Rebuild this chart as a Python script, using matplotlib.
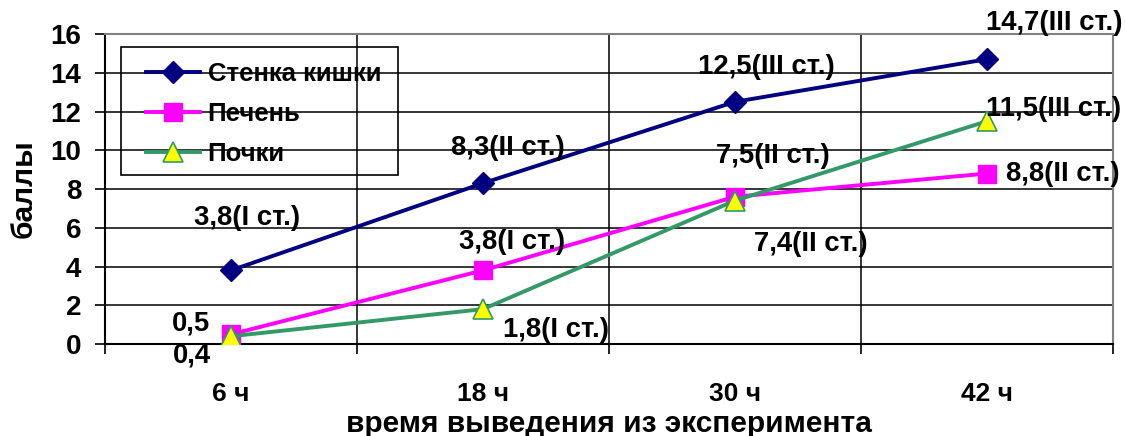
import matplotlib.pyplot as plt
import matplotlib.patches as mpatches
import numpy as np

plt.rcParams['font.family'] = ['Liberation Sans', 'DejaVu Sans']
plt.rcParams['font.weight'] = 'bold'

# данные
categories = ["6 ч", "18 ч", "30 ч", "42 ч"]
stenka = [3.8, 8.3, 12.5, 14.7]
pechen = [0.5, 3.8, 7.6, 8.8]
pochki = [0.4, 1.8, 7.4, 11.5]
stenka_labels = ["3,8(I ст.)", "8,3(II ст.)", "12,5(III ст.)", "14,7(III ст.)"]
pechen_labels = ["0,5", "3,8(I ст.)", "7,5(II ст.)", "8,8(II ст.)"]
pochki_labels = ["0,4", "1,8(I ст.)", "7,4(II ст.)", "11,5(III ст.)"]

# смещения подписей (пиксели)
stenka_off = [(16, 52), (25, 35), (31, 35), (67, 36)]
pechen_off = [(-40, 11), (29, 28), (38, 41), (76, 0)]
pochki_off = [(-39, -19), (73, -21), (76, -43), (67, 12)]

fs = 18.5
fig = plt.figure(figsize=(11.25, 4.36), dpi=100)
ax = fig.add_axes([105/1125, 1-344/436, 1008/1125, 310/436])

x = np.arange(len(categories))
ax.plot(x, stenka, color='#000080', lw=2.8, marker='D', ms=11,
        mfc='#000080', mec='#000080', label="Стенка кишки", zorder=3)
ax.plot(x, pechen, color='#FF00FF', lw=2.8, marker='s', ms=13,
        mfc='#FF00FF', mec='#FF00FF', label="Печень", zorder=3)
ax.plot(x, pochki, color='#339966', lw=2.8, marker='^', ms=14,
        mfc='#FFFF00', mec='#339966', mew=1.2, label="Почки", zorder=4)

for vals, labs, offs in [(stenka, stenka_labels, stenka_off),
                         (pechen, pechen_labels, pechen_off),
                         (pochki, pochki_labels, pochki_off)]:
    for i, (v, t, o) in enumerate(zip(vals, labs, offs)):
        ax.annotate(t, (i, v), xytext=o, textcoords='offset pixels',
                    ha='center', va='center', fontsize=19.8, fontweight='bold',
                    annotation_clip=False, zorder=5)

ax.set_xlim(-0.5, 3.5)
ax.set_ylim(0, 16)
ax.set_yticks(np.arange(0, 17, 2))
ax.set_xticks(x)
ax.set_xticklabels(categories)
ax.set_xticks(np.arange(-0.5, 3.6, 1), minor=True)
ax.tick_params(axis='x', which='major', length=0, pad=27, labelsize=19)
ax.tick_params(axis='x', which='minor', length=7, width=1.2, direction='out')
ax.tick_params(axis='y', length=7, width=1.2, labelsize=20, pad=10)

for yv in np.arange(2, 16, 2):
    ax.axhline(yv, color='black', lw=1.1, zorder=1)
for xv in [0.5, 1.5, 2.5]:
    ax.axvline(xv, color='black', lw=1.1, zorder=1)

ax.spines['left'].set_linewidth(1.5)
ax.spines['bottom'].set_linewidth(1.5)
for s in ['top', 'right']:
    ax.spines[s].set_color('#808080')
    ax.spines[s].set_linewidth(1.5)

ax.set_xlabel("время выведения из эксперимента", fontsize=21.5, fontweight='bold', labelpad=3)
ax.set_ylabel("баллы", fontsize=21.5, fontweight='bold', labelpad=9)

leg = ax.legend(loc='upper left', bbox_to_anchor=(0.0407, 0.911), fontsize=fs,
                frameon=False, handlelength=2.1, handletextpad=0.3,
                labelspacing=0.64, borderpad=0, borderaxespad=0)
for t in leg.get_texts():
    t.set_fontweight('bold')
ax.add_patch(mpatches.Rectangle((0.0159, 0.545), 0.2748, 0.413, transform=ax.transAxes,
                                fill=False, edgecolor='black', lw=1.2, zorder=2))

fig.savefig("out.png", dpi=100)
